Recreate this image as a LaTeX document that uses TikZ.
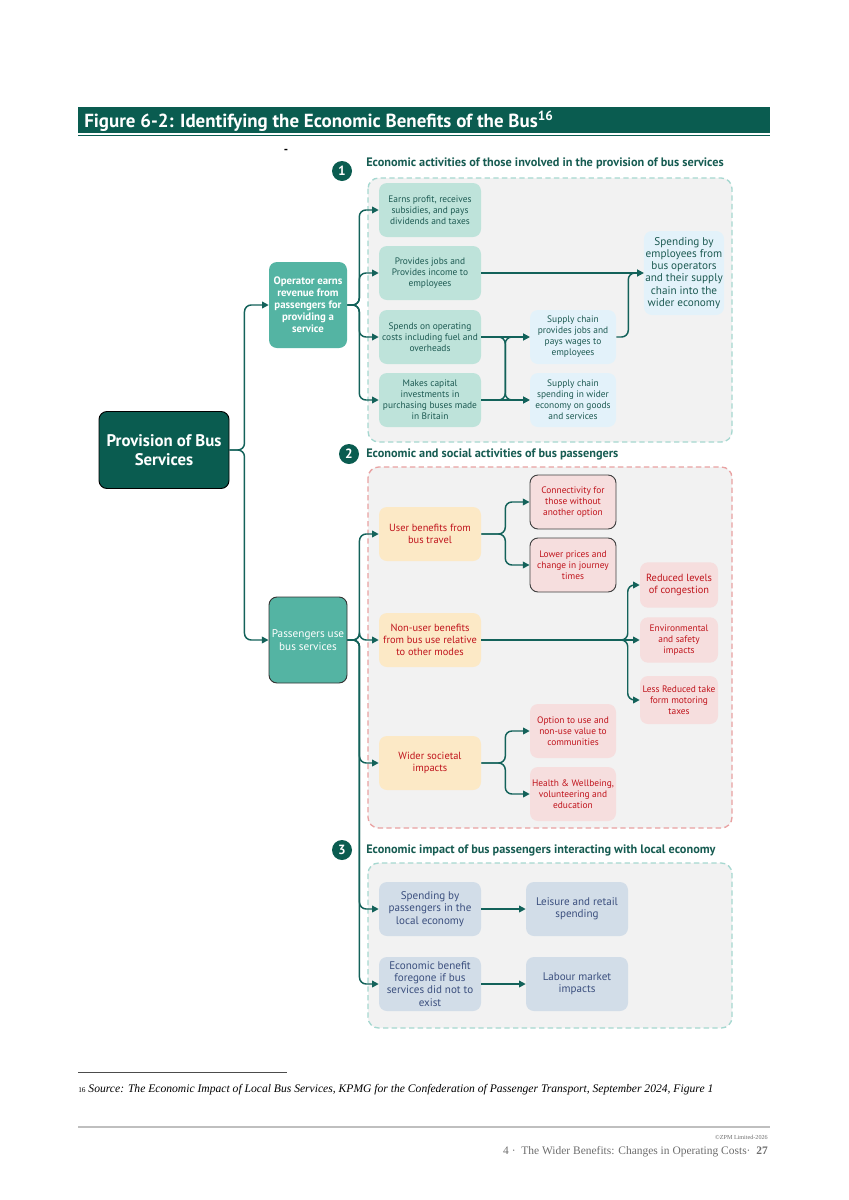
\documentclass[tikz,border=0pt]{standalone}
\usepackage{fontspec}
\setmainfont{PT Sans}
\newfontfamily\serifft{Liberation Serif}
\usetikzlibrary{arrows.meta,calc}
\definecolor{dkgreen}{HTML}{0A5C50}
\definecolor{opteal}{HTML}{54B4A3}
\definecolor{tealfill}{HTML}{BEE3DA}
\definecolor{tealtext}{HTML}{1D5A52}
\definecolor{bluefill}{HTML}{E3F2FA}
\definecolor{boxgray}{HTML}{F2F2F2}
\definecolor{tealdash}{HTML}{A6D8D0}
\definecolor{pinkdash}{HTML}{E9A2A2}
\definecolor{creamfill}{HTML}{FCE9C6}
\definecolor{pinkfill}{HTML}{F6DEDE}
\definecolor{redtext}{HTML}{C0141C}
\definecolor{steelfill}{HTML}{D2DDE8}
\definecolor{steeltext}{HTML}{3B4F7E}
\definecolor{conncol}{HTML}{13625A}
\definecolor{headcol}{HTML}{175C52}
\definecolor{footgray}{HTML}{6E6E6E}
\newcommand\fsA{\fontsize{7.05}{8.3}\selectfont}
\newcommand\fsB{\fontsize{7.8}{9}\selectfont}
\newcommand\fsE{\fontsize{8.4}{9.2}\selectfont}
\newcommand\fsH{\fontsize{9.2}{10}\selectfont}
\tikzset{
  conn/.style={draw=conncol, line width=1.1pt, rounded corners=5pt, -{Triangle[length=5pt,width=5pt]}},
  base/.style={rounded corners=6pt, align=center, inner sep=1pt},
  tealbox/.style={base, fill=tealfill, text=tealtext, font=\fsA, minimum width=76.5pt, minimum height=40.5pt},
  bluebox/.style={base, fill=bluefill, text=tealtext, font=\fsA, minimum width=64.5pt, minimum height=40.5pt},
  creambox/.style={base, fill=creamfill, text=redtext, font=\fsB, minimum width=76.5pt, minimum height=40.5pt},
  pinkbox/.style={base, fill=pinkfill, text=redtext, font=\fsA, minimum width=64.5pt, minimum height=40.5pt},
  pinkbord/.style={pinkbox, draw=black!75, line width=0.7pt},
  redsmall/.style={base, fill=pinkfill, text=redtext, font=\fsA, minimum width=58.5pt, minimum height=34pt},
  steelbox/.style={base, fill=steelfill, text=steeltext, font=\fontsize{8.3}{9.2}\selectfont, minimum width=76.5pt, minimum height=40.5pt},
  numc/.style={circle, fill=dkgreen, text=white, font=\bfseries\fontsize{10}{11}\selectfont, minimum size=15pt, inner sep=0pt},
  heading/.style={anchor=west, text=headcol, font=\bfseries\fsH, inner sep=0pt},
  section/.style={rounded corners=8pt, fill=boxgray, line width=1pt, dash pattern=on 4pt off 2.5pt},
}
\begin{document}
\begin{tikzpicture}[x=0.75pt,y=-0.75pt]
\useasboundingbox (0,0) rectangle (849,1200);
\fill[white] (0,0) rectangle (849,1200);
% title
\fill[dkgreen] (78,107) rectangle (770,133);
\draw[dkgreen, line width=0.7pt] (78,135.5) -- (770,135.5);
\node[anchor=west, text=white, font=\bfseries\fontsize{14.2}{15}\selectfont, inner sep=0pt] (title) at (84,121) {Figure 6-2: Identifying the Economic Benefits of the Bus\textsuperscript{16}};
\node[font=\bfseries\fontsize{9}{10}\selectfont, inner sep=0pt] (dash) at (286,151) {-};
% section boxes
\draw[section, draw=tealdash] (368,178) rectangle (732,442);
\draw[section, draw=pinkdash] (368,467) rectangle (732,828);
\draw[section, draw=tealdash] (368,863) rectangle (732,1028);
% headings
\node[numc] (c1) at (342,171) {1};
\node[heading] (h1) at (366,163) {Economic activities of those involved in the provision of bus services};
\node[numc] (c2) at (349,454) {2};
\node[heading] (h2) at (366,454) {Economic and social activities of bus passengers};
\node[numc] (c3) at (342,850) {3};
\node[heading] (h3) at (366,850) {Economic impact of bus passengers interacting with local economy};
% main nodes
\node[base, fill=dkgreen, draw=black, line width=0.7pt, text=white, font=\bfseries\fontsize{12.6}{14.2}\selectfont, minimum width=97.5pt, minimum height=57.75pt] (prov) at (164,450) {Provision of Bus\\Services};
\node[base, fill=opteal, text=white, font=\bfseries\fontsize{8.1}{9}\selectfont, minimum width=58.5pt, minimum height=64.5pt] (op) at (308,305) {Operator earns\\revenue from\\passengers for\\providing a\\service};
\node[base, fill=opteal, draw=black!80, line width=0.7pt, text=white, font=\fontsize{8.4}{9.6}\selectfont, minimum width=58.5pt, minimum height=64.5pt] (pas) at (308,640) {Passengers use\\bus services};
% section 1
\node[tealbox] (a1) at (430,210) {Earns profit, receives\\subsidies, and pays\\dividends and taxes};
\node[tealbox] (a2) at (430,273) {Provides jobs and\\Provides income to\\employees};
\node[tealbox] (a3) at (430,337) {Spends on operating\\costs including fuel and\\overheads};
\node[tealbox] (a4) at (430,400) {Makes capital\\investments in\\purchasing buses made\\in Britain};
\node[bluebox] (s1) at (573,337) {Supply chain\\provides jobs and\\pays wages to\\employees};
\node[bluebox] (s2) at (573,400) {Supply chain\\spending in wider\\economy on goods\\and services};
\node[base, fill=bluefill, text=tealtext, font=\fsE, minimum width=60pt, minimum height=63pt] (emp) at (684,273) {Spending by\\employees from\\bus operators\\and their supply\\chain into the\\wider economy};
% section 2
\node[creambox] (u) at (430,534) {User benefits from\\bus travel};
\node[pinkbord] (k1) at (573,502) {Connectivity for\\those without\\another option};
\node[pinkbord] (k2) at (573,565) {Lower prices and\\change in journey\\times};
\node[creambox] (nu) at (430,640) {Non-user benefits\\from bus use relative\\to other modes};
\node[redsmall, font=\fsB] (r1) at (679,585) {Reduced levels\\of congestion};
\node[redsmall] (r2) at (679,640) {Environmental\\and safety\\impacts};
\node[redsmall, minimum height=36pt] (r3) at (679,700) {Less Reduced take\\form motoring\\taxes};
\node[creambox] (w) at (430,763) {Wider societal\\impacts};
\node[pinkbox] (o1) at (573,731) {Option to use and\\non-use value to\\communities};
\node[pinkbox] (o2) at (573,794) {Health \& Wellbeing,\\volunteering and\\education};
% section 3
\node[steelbox] (p1) at (430,909) {Spending by\\passengers in the\\local economy};
\node[steelbox] (l1) at (577,909) {Leisure and retail\\spending};
\node[steelbox] (p2) at (430,984) {Economic benefit\\foregone if bus\\services did not to\\exist};
\node[steelbox] (l2) at (577,984) {Labour market\\impacts};
% connectors
\draw[conn] (prov.east) -- ($(prov.east)+(15,0)$) |- (op.west);
\draw[conn] (prov.east) -- ($(prov.east)+(15,0)$) |- (pas.west);
\foreach \t in {a1,a2,a3,a4} \draw[conn] (op.east) -- ($(op.east)+(12,0)$) |- (\t.west);
\draw[conn] (a2.east) -- (emp.west);
\draw[conn] (s1.east) -- ($(s1.east)+(12,0)$) |- (emp.west);
\draw[conn] (a3.east) -- (s1.west);
\draw[conn] (a4.east) -- (s2.west);
\draw[conn] (a3.east) -- ($(a3.east)+(24,0)$) |- (s2.west);
\draw[conn] (a4.east) -- ($(a4.east)+(24,0)$) |- (s1.west);
\foreach \t in {u,nu,w,p1,p2} \draw[conn] (pas.east) -- ($(pas.east)+(12,0)$) |- (\t.west);
\foreach \t in {k1,k2} \draw[conn] (u.east) -- ($(u.east)+(24,0)$) |- (\t.west);
\foreach \t in {o1,o2} \draw[conn] (w.east) -- ($(w.east)+(24,0)$) |- (\t.west);
\draw[conn] (nu.east) -- (r2.west);
\foreach \t in {r1,r3} \draw[conn] (nu.east) -- ($(nu.east -| r2.west)+(-12,0)$) |- (\t.west);
\draw[conn] (p1.east) -- (l1.west);
\draw[conn] (p2.east) -- (l2.west);
% footnote
\draw[black!70, line width=0.6pt] (78,1072) -- (287,1072);
\node[anchor=west, inner sep=0pt, font=\serifft\itshape\fontsize{8.7}{10}\selectfont] (fn) at (78,1090) {{\fontsize{5.5}{6}\selectfont\upshape 16} Source: The Economic Impact of Local Bus Services, KPMG for the Confederation of Passenger Transport, September 2024, Figure 1};
% footer
\draw[black!25, line width=0.8pt] (78,1127) -- (770,1127);
\node[anchor=east, inner sep=0pt, text=footgray, font=\serifft\fontsize{4.6}{5}\selectfont] (copy) at (768,1137) {\textcopyright ZPM Limited-2026};
\node[anchor=east, inner sep=0pt, text=footgray, font=\serifft\fontsize{8.6}{10}\selectfont] (foot) at (768,1152) {4 {\textperiodcentered}\ \ The Wider Benefits: Changes in Operating Costs{\textperiodcentered}\ \ \textbf{27}};
\end{tikzpicture}
\end{document}
